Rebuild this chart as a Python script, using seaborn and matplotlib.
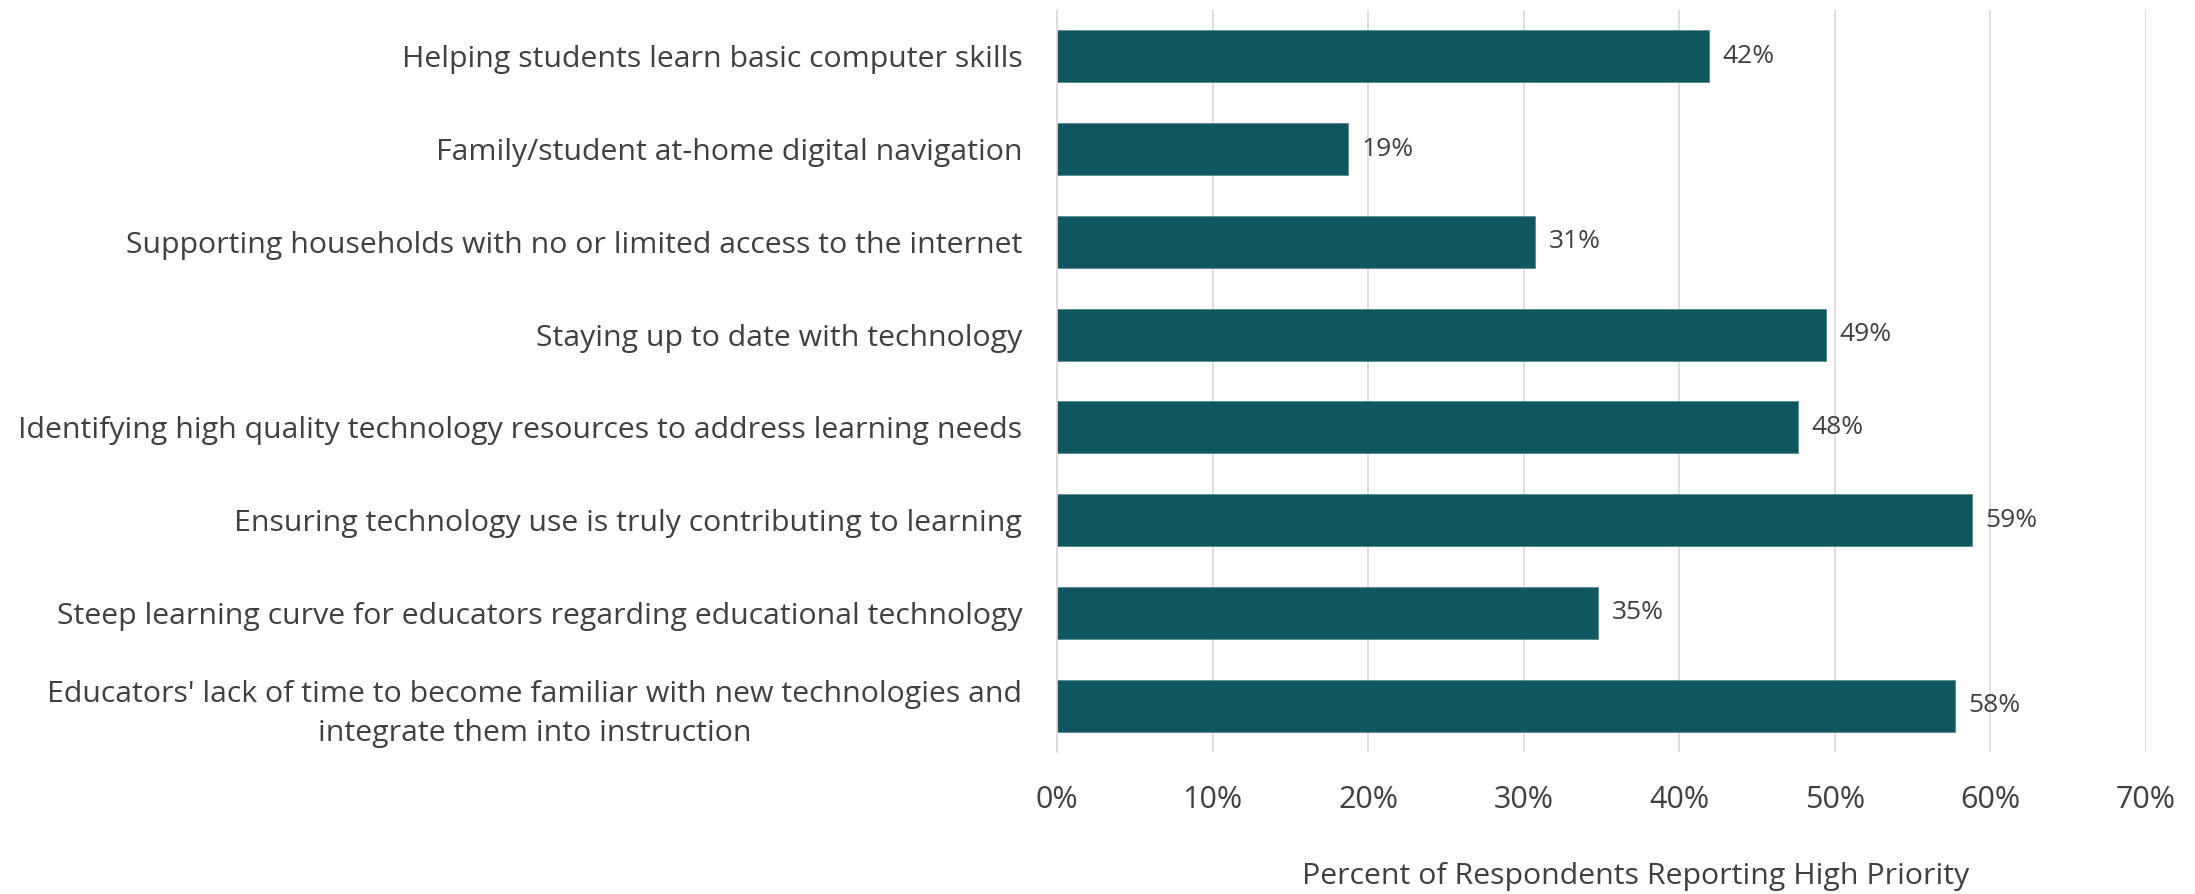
import pandas as pd
import numpy as np
import matplotlib.pyplot as plt
import seaborn as sns

# 数据
categories = [
    "Helping students learn basic computer skills",
    "Family/student at-home digital navigation",
    "Supporting households with no or limited access to the internet",
    "Staying up to date with technology",
    "Identifying high quality technology resources to address learning needs",
    "Ensuring technology use is truly contributing to learning",
    "Steep learning curve for educators regarding educational technology",
    "Educators' lack of time to become familiar with new technologies and\nintegrate them into instruction",
]
values = [41.9, 18.7, 30.7, 49.4, 47.6, 58.8, 34.8, 57.7]
labels = ["42%", "19%", "31%", "49%", "48%", "59%", "35%", "58%"]
xticks = [0, 10, 20, 30, 40, 50, 60, 70]

df = pd.DataFrame({"category": categories, "value": values})

sns.set_style("white")
plt.rcParams['font.family'] = ['Open Sans', 'DejaVu Sans']
text_color = "#404040"
bar_color = "#10575F"

fig = plt.figure(figsize=(21.95, 8.94), dpi=100)
ax = fig.add_axes([1057 / 2195, 1 - 752 / 894, (2146 - 1057) / 2195, 742 / 894])

sns.barplot(data=df, x="value", y="category", orient="h", color=bar_color,
            width=0.56, saturation=1, ax=ax, edgecolor="#5a8a90", linewidth=0.6)

for i, (v, lab) in enumerate(zip(values, labels)):
    ax.annotate(lab, xy=(v, i), xytext=(10, 0), textcoords="offset points",
                ha="left", va="center", fontsize=19, color=text_color)

ax.set_xlim(0, 70)
ax.set_xticks(xticks)
ax.set_xticklabels([f"{t}%" for t in xticks])
ax.grid(axis="x", color="#D9D9D9", linewidth=1.2)
ax.set_axisbelow(True)
for s in ["top", "right", "bottom"]:
    ax.spines[s].set_visible(False)
ax.spines["left"].set_color("#D9D9D9")
ax.spines["left"].set_linewidth(1.2)

ax.tick_params(axis="y", length=0, pad=25, labelsize=21.8, labelcolor=text_color)
ax.tick_params(axis="x", length=0, pad=24, labelsize=22, labelcolor=text_color)
for t in ax.get_yticklabels():
    t.set_multialignment("center")
    t.set_linespacing(1.45)

ax.set_ylabel("")
ax.set_xlabel("Percent of Respondents Reporting High Priority", fontsize=21.8, color=text_color)
ax.xaxis.set_label_coords(0.531, -0.148)

fig.savefig("out.png", dpi=100)
